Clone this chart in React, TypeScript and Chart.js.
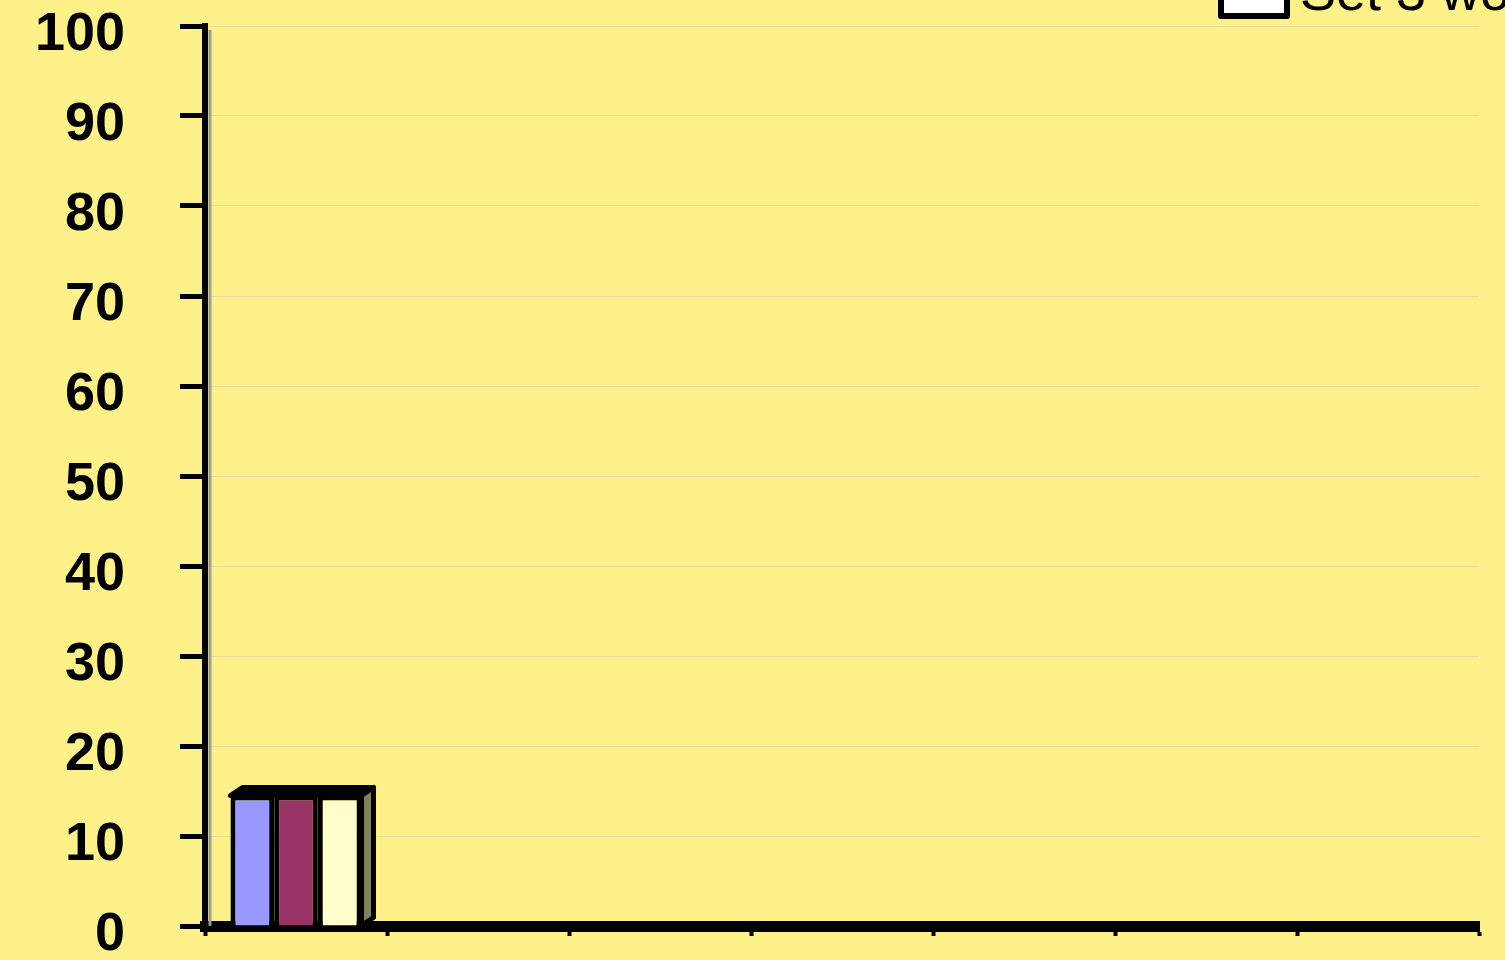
import React, { useEffect, useRef } from "react";
import { Chart, registerables } from "chart.js";

Chart.register(...registerables);

const categories = ["1", "2", "3", "4", "5", "6", "7"];
const seriesNames = ["Set 1 words", "Set 2 words", "Set 3 words"];
const set1 = [14.5, 0, 0, 0, 0, 0, 0];
const set2 = [14.5, 0, 0, 0, 0, 0, 0];
const set3 = [14.5, 0, 0, 0, 0, 0, 0];
const yTicks = [0, 10, 20, 30, 40, 50, 60, 70, 80, 90, 100];

const BG = "#FFF18A";

const deco = {
  id: "deco",
  beforeDraw(chart: any) {
    const { ctx, width, height } = chart;
    ctx.save();
    ctx.fillStyle = BG;
    ctx.fillRect(0, 0, width, height);
    ctx.restore();
  },
  afterDatasetsDraw(chart: any) {
    const { ctx, chartArea } = chart;
    const dx = 12, dy = 8;
    ctx.save();
    ctx.strokeStyle = "#9a9a9a";
    ctx.lineWidth = 3;
    ctx.beginPath();
    ctx.moveTo(chartArea.left + 5, chartArea.top + 4);
    ctx.lineTo(chartArea.left + 5, chartArea.bottom);
    ctx.stroke();
    const n = chart.data.datasets.length;
    for (let d = 0; d < n; d++) {
      const meta = chart.getDatasetMeta(d);
      meta.data.forEach((bar: any, i: number) => {
        const v = chart.data.datasets[d].data[i];
        if (!v) return;
        const x0 = bar.x - bar.width / 2;
        const x1 = bar.x + bar.width / 2;
        const y = bar.y;
        ctx.lineJoin = "round";
        ctx.lineWidth = 5;
        ctx.strokeStyle = "#000";
        ctx.fillStyle = "#000";
        ctx.beginPath();
        ctx.moveTo(x0, y);
        ctx.lineTo(x0 + dx, y - dy);
        ctx.lineTo(x1 + dx, y - dy);
        ctx.lineTo(x1, y);
        ctx.closePath();
        ctx.fill();
        ctx.stroke();
        if (d === n - 1) {
          ctx.fillStyle = "#7F7F62";
          ctx.beginPath();
          ctx.moveTo(x1, y);
          ctx.lineTo(x1 + dx, y - dy);
          ctx.lineTo(x1 + dx, bar.base - dy);
          ctx.lineTo(x1, bar.base);
          ctx.closePath();
          ctx.fill();
          ctx.stroke();
        }
      });
    }
    const last = chart.data.datasets[n - 1];
    ctx.lineWidth = 6;
    ctx.fillStyle = "#FFFFFF";
    ctx.strokeStyle = "#000";
    ctx.beginPath();
    ctx.rect(1221, -40, 66, 56);
    ctx.fill();
    ctx.stroke();
    ctx.fillStyle = "#000";
    ctx.font = "54px 'Liberation Sans', Arial, sans-serif";
    ctx.textBaseline = "alphabetic";
    ctx.textAlign = "left";
    ctx.fillText(last.label, 1300, 10);
    ctx.restore();
  },
};

export default function App() {
  const ref = useRef<HTMLCanvasElement>(null);
  useEffect(() => {
    document.body.style.margin = "0";
    const chart = new Chart(ref.current!, {
      type: "bar",
      data: {
        labels: categories,
        datasets: [
          { label: seriesNames[0], data: set1, backgroundColor: "#9999FF" },
          { label: seriesNames[1], data: set2, backgroundColor: "#993366" },
          { label: seriesNames[2], data: set3, backgroundColor: "#FFFFCC" },
        ].map((d) => ({
          ...d,
          borderColor: "#000",
          borderWidth: 5,
          categoryPercentage: 0.72,
          barPercentage: 1,
          borderSkipped: "bottom" as const,
        })),
      },
      options: {
        animation: false,
        responsive: false,
        layout: { autoPadding: false, padding: { top: 26, right: 26, left: 0, bottom: 0 } },
        plugins: { legend: { display: false }, tooltip: { enabled: false } },
        scales: {
          x: {
            offset: true,
            grid: {
              display: true,
              drawOnChartArea: false,
              offset: true,
              tickLength: 10,
              tickWidth: 4,
              tickColor: "#000",
            },
            border: { display: true, color: "#000", width: 11 },
            ticks: { display: false },
            afterFit: (s: any) => {
              s.height = 34;
              s.paddingLeft = 0; s.paddingRight = 0; s.paddingTop = 0; s.paddingBottom = 0;
            },
          },
          y: {
            min: 0,
            max: 100,
            afterBuildTicks: (s: any) => { s.ticks = yTicks.map((v) => ({ value: v })); },
            grid: {
              color: "#E6DCA0",
              lineWidth: 1,
              tickLength: 25,
              tickWidth: 5,
              tickColor: "#000",
            },
            border: { display: true, color: "#000", width: 6 },
            ticks: {
              padding: 55,
              labelOffset: 9,
              color: "#000",
              font: { family: "'Liberation Sans', Arial, sans-serif", size: 54, weight: "bold" },
            },
            afterFit: (s: any) => {
              s.width = 205;
              s.paddingLeft = 0; s.paddingRight = 0; s.paddingTop = 0; s.paddingBottom = 0;
            },
          },
        },
      },
      plugins: [deco],
    });
    return () => chart.destroy();
  }, []);
  return (
    <div style={{ width: 1505, height: 960, background: BG }}>
      <canvas ref={ref} width={1505} height={960} />
    </div>
  );
}
